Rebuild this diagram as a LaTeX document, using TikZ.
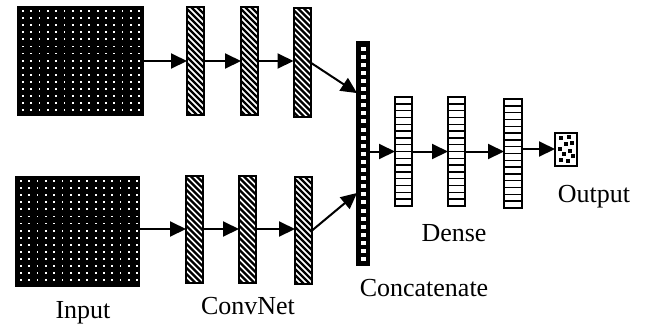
\documentclass[tikz,border=0pt]{standalone}
\usepackage{fontspec}
\setmainfont{Liberation Serif}
\usetikzlibrary{arrows.meta,calc}
\begin{document}
\begin{tikzpicture}[x=1pt,y=-1pt,
  every node/.style={inner sep=0pt, outer sep=0pt},
  lbl/.style={font=\fontsize{26}{30}\selectfont, anchor=base},
  arr/.style={line width=2pt, -{Triangle[length=16pt,width=15pt]}},
  inblock/.style={draw=black, line width=1pt, fill=black, minimum width=126pt, minimum height=109pt,
    path picture={\foreach \i in {0,...,14}{\foreach \j in {0,...,14}{
      \fill[white] ($(path picture bounding box.north west)+(5+\i*8.3,4+\j*7.1)$) rectangle ++(1.8,1.8);}}}},
  convbar/.style={draw=black, line width=2pt, fill=white, minimum width=17pt, minimum height=108pt,
    path picture={\foreach \k in {-5,...,20}{
      \draw[line width=2.3pt] ($(path picture bounding box.north west)+(-2,\k*6)$) -- ++(26,26);}}},
  catbar/.style={draw=black, line width=2pt, fill=black, minimum width=12pt, minimum height=223pt,
    path picture={\foreach \k in {0,...,26}{
      \fill[white] ($(path picture bounding box.north west)+(3.5,4.5+\k*8.1)$) rectangle ++(5,4);}}},
  densebar/.style={draw=black, line width=2pt, fill=white, minimum width=17pt, minimum height=109pt,
    path picture={\foreach \k in {1,...,15}{
      \draw[line width=1.4pt] ($(path picture bounding box.north west)!\k/16!(path picture bounding box.south west)$) -- ++(25,0);}}},
  outbox/.style={draw=black, line width=2pt, fill=white, minimum width=22pt, minimum height=33pt,
    path picture={\foreach \p/\q in {4/3,12/2,9/9,15/8,3/14,13/16,7/19,16/21,4/25,11/26}{
      \fill[black] ($(path picture bounding box.north west)+(\p,\q)$) rectangle ++(4,4);}}}
]
\useasboundingbox (0,0) rectangle (647,325);

% inputs
\node[inblock] (in1) at (80,60.5) {};
\node[inblock, minimum width=124pt, minimum height=110pt] (in2) at (77,231) {};

% conv bars
\node[convbar] (t1) at (195.5,61) {};
\node[convbar] (t2) at (249.5,61) {};
\node[convbar, minimum height=109pt] (t3) at (302,62.5) {};
\node[convbar, minimum height=107pt] (b1) at (194.5,229) {};
\node[convbar, minimum height=107pt] (b2) at (247.5,229) {};
\node[convbar, minimum height=107pt] (b3) at (303.5,230.5) {};

% concatenate
\node[catbar] (cat) at (363,153.5) {};

% dense
\node[densebar] (d1) at (403.5,151.5) {};
\node[densebar] (d2) at (456.5,151.5) {};
\node[densebar, minimum width=18pt] (d3) at (513,153.5) {};

% output
\node[outbox] (out) at (566,149) {};

% arrows
\draw[arr] (in1.east |- t1) -- (t1.west);
\draw[arr] (t1.east) -- (t2.west);
\draw[arr] (t2.east) -- (t2.east -| t3.west);
\draw[arr] (t3.east) -- ($(cat.north west)!0.229!(cat.south west)$);
\draw[arr] (in2.east |- b1) -- (b1.west);
\draw[arr] (b1.east) -- (b2.west);
\draw[arr] (b2.east) -- (b2.east -| b3.west);
\draw[arr] (b3.east) -- ($(cat.north west)!0.677!(cat.south west)$);
\draw[arr] (cat.east |- d1) -- (d1.west);
\draw[arr] (d1.east) -- (d2.west);
\draw[arr] (d2.east) -- (d2.east -| d3.west);
\draw[arr] (d3.east |- out) -- (out.west);

% labels
\node[lbl] (lin) at (83,318.5) {Input};
\node[lbl] (lconv) at (248,314) {ConvNet};
\node[lbl] (lcat) at (424,296) {Concatenate};
\node[lbl] (ldense) at (454,241) {Dense};
\node[lbl] (lout) at (594,202) {Output};
\end{tikzpicture}
\end{document}
